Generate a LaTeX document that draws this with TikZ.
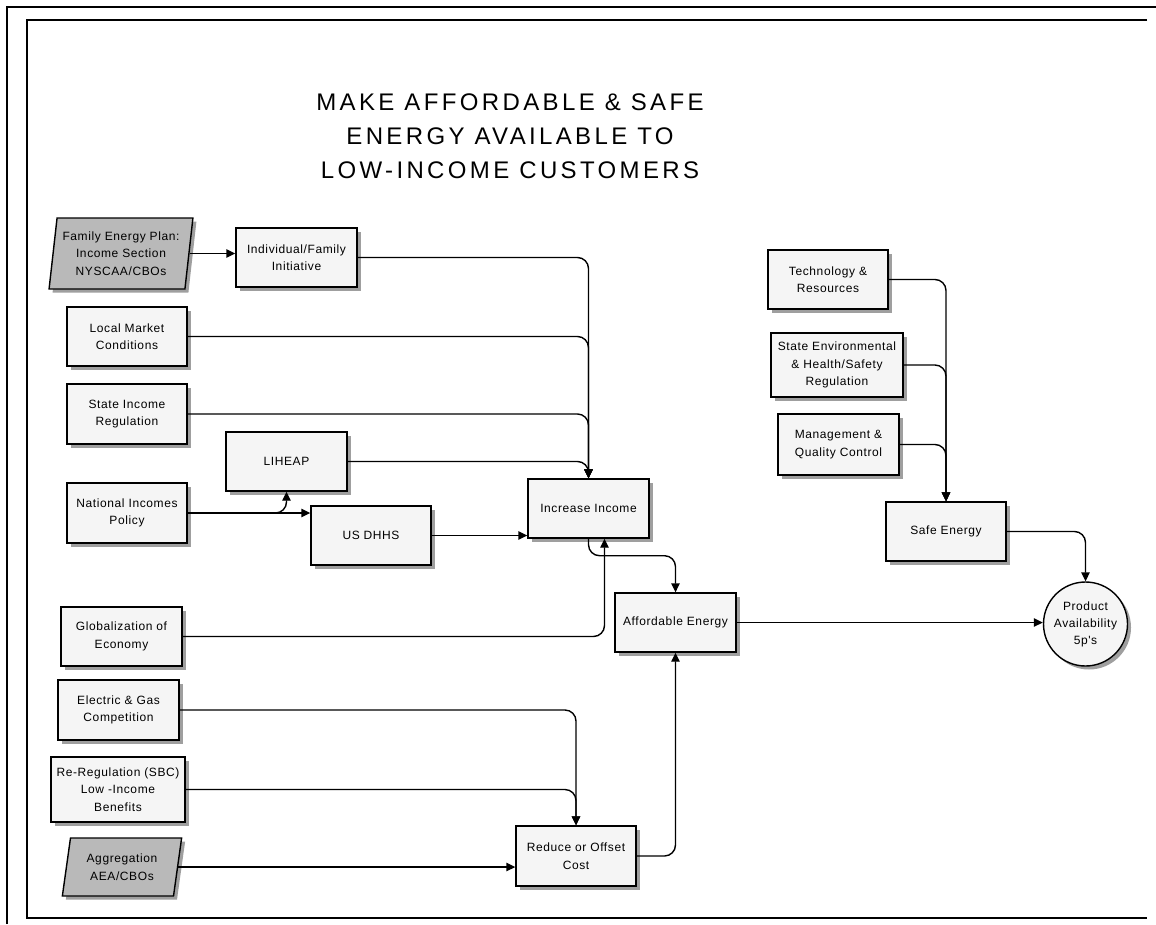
\documentclass[tikz,border=0pt]{standalone}
\usepackage{fontspec}
\setmainfont{Liberation Sans}
\newfontfamily\boxfont[LetterSpace=5]{Liberation Sans}
\newfontfamily\headfont[LetterSpace=14]{Liberation Sans}
\usetikzlibrary{arrows.meta,shapes.geometric,shadows}

\begin{document}
\begin{tikzpicture}[x=1pt,y=-1pt,
  boxshadow/.style={drop shadow={shadow xshift=3.5pt,shadow yshift=-3.5pt,fill=gray!75,opacity=1}},
  factor/.style={rectangle,draw=black,line width=1.4pt,fill=gray!8,boxshadow,
    align=center,font=\boxfont\fontsize{12}{17.5}\selectfont,inner sep=2pt,
    minimum width=120pt,minimum height=59pt},
  source/.style={trapezium,trapezium left angle=81,trapezium right angle=99,
    trapezium stretches=true,draw=black,line width=1.4pt,fill=gray!55,boxshadow,
    align=center,font=\boxfont\fontsize{12}{17.5}\selectfont,inner sep=2pt},
  goal/.style={circle,draw=black,line width=1.4pt,fill=gray!8,boxshadow,
    align=center,font=\boxfont\fontsize{12}{17}\selectfont,inner sep=0pt,
    minimum size=84pt},
  link/.style={-{Triangle[length=9pt,width=8.5pt]},line width=1.4pt,rounded corners=11pt},
  heading/.style={align=center,font=\headfont\fontsize{24}{34}\selectfont}
]
% page and frames
\fill[white] (0,0) rectangle (1156,924);
\useasboundingbox (0,0) rectangle (1156,924);
\draw[line width=1.8pt] (7,924) -- (7,7) -- (1156,7);
\draw[line width=1.2pt] (1147,20) -- (27,20) -- (27,918) -- (1147,918);

% heading
\node[heading] (title) at (510,136.3)
  {MAKE AFFORDABLE \& SAFE\\ENERGY AVAILABLE TO\\LOW-INCOME CUSTOMERS};

% income factors
\node[source,minimum width=144pt,minimum height=71pt] (fam) at (121,253.5)
  {Family Energy Plan:\\Income Section\\NYSCAA/CBOs};
\node[factor,minimum width=121pt] (indiv) at (296.5,257.5) {Individual/Family\\Initiative};
\node[factor] (lmc) at (127,336.5) {Local Market\\Conditions};
\node[factor,minimum height=60pt] (sir) at (127,414) {State Income\\Regulation};
\node[factor,minimum width=121pt] (lih) at (286.5,461.5) {LIHEAP};
\node[factor,minimum height=60pt] (nip) at (127,513) {National Incomes\\Policy};
\node[factor] (dhhs) at (371,535.5) {US DHHS};
\node[factor,minimum width=121pt] (glob) at (121.5,636.5) {Globalization of\\Economy};

% cost factors
\node[factor,minimum width=121pt,minimum height=60pt] (egc) at (118.5,710) {Electric \& Gas\\Competition};
\node[factor,minimum width=134pt,minimum height=65pt] (rereg) at (118,789.5)
  {Re-Regulation (SBC)\\Low -Income\\Benefits};
\node[source,trapezium left angle=79,trapezium right angle=101,
  minimum width=120pt,minimum height=58pt] (agg) at (122,867) {Aggregation\\AEA/CBOs};

% intermediate results
\node[factor,minimum width=121pt] (inc) at (588.5,508.5) {Increase Income};
\node[factor,minimum width=121pt] (aff) at (675.5,622.5) {Affordable Energy};
\node[factor,minimum height=60pt] (red) at (576,856) {Reduce or Offset\\Cost};

% safety factors
\node[factor] (tech) at (828,279.5) {Technology \&\\Resources};
\node[factor,minimum width=132pt,minimum height=64pt] (senv) at (837,365)
  {State Environmental\\\& Health/Safety\\Regulation};
\node[factor,minimum width=121pt,minimum height=61pt] (mgmt) at (838.5,444.5)
  {Management \&\\Quality Control};
\node[factor] (safe) at (946,531.5) {Safe Energy};

% outcome
\node[goal] (prod) at (1085.5,624) {Product\\Availability\\5p's};

% connectors
\draw[link] (fam.east) -- (fam.east -| indiv.west);
\draw[link] (indiv.east) -| (inc.north);
\draw[link] (lmc.east) -| (inc.north);
\draw[link] (sir.east) -| (inc.north);
\draw[link] (lih.east) -| (inc.north);
\draw[link] (nip.east) -- (nip.east -| dhhs.west);
\draw[link] (nip.east) -| (lih.south);
\draw[link] (dhhs.east) -- (dhhs.east -| inc.west);
\draw[link] (glob.east) -| ([xshift=16pt]inc.south);
\draw[link] (inc.south) -- ++(0,17) -| (aff.north);
\draw[link] (egc.east) -| (red.north);
\draw[link] (rereg.east) -| (red.north);
\draw[link] (agg.east) -- (agg.east -| red.west);
\draw[link] (red.east) -| (aff.south);
\draw[link] (aff.east) -- (aff.east -| prod.west);
\draw[link] (safe.east) -| (prod.north);
\draw[link] (tech.east) -| (safe.north);
\draw[link] (senv.east) -| (safe.north);
\draw[link] (mgmt.east) -| (safe.north);
\end{tikzpicture}
\end{document}
